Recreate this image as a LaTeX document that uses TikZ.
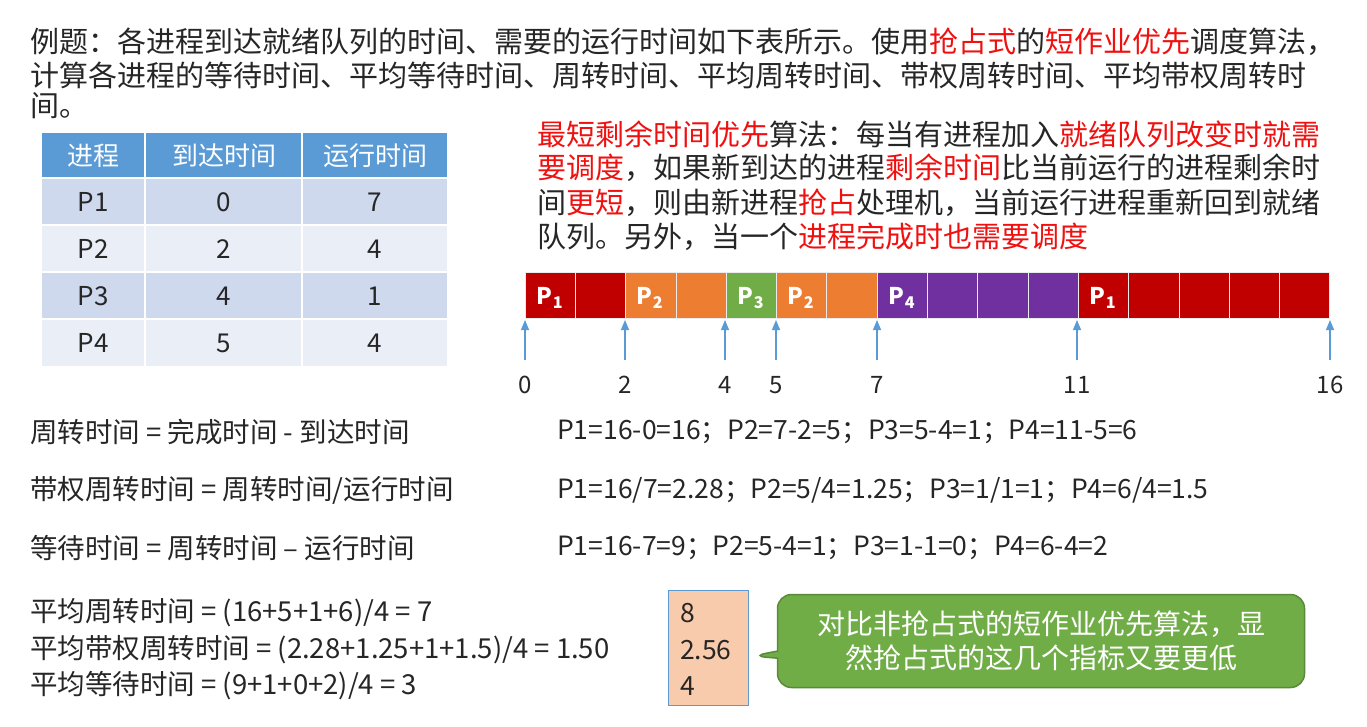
\documentclass[tikz,border=0pt]{standalone}
\usepackage{fontspec}
\setmainfont{Noto Sans CJK SC}
\usetikzlibrary{arrows.meta,shapes.callouts}
\definecolor{red1}{HTML}{C00000}
\definecolor{rtx}{HTML}{F01010}
\definecolor{org}{HTML}{ED7D31}
\definecolor{grn}{HTML}{70AD47}
\definecolor{pur}{HTML}{7030A0}
\definecolor{hdr}{HTML}{5B9BD5}
\definecolor{rowa}{HTML}{CFD9EE}
\definecolor{rowb}{HTML}{E9EEF7}
\definecolor{tick}{HTML}{5B9BD5}
\definecolor{peach}{HTML}{F8CBAD}
\definecolor{txt}{HTML}{262626}
\tikzset{
 tx/.style={anchor=west,inner sep=0pt,font=\fontsize{26.5}{30}\selectfont,text=txt},
 txl/.style={anchor=west,inner sep=0pt,font=\fontsize{27.5}{30}\selectfont,text=txt},
 big/.style={anchor=west,inner sep=0pt,font=\fontsize{29}{32}\selectfont,text=txt},
 cell/.style={draw=white!85!gray,line width=0.8pt},
 plab/.style={text=white,font=\fontsize{23}{24}\selectfont\bfseries,anchor=center},
 tarrow/.style={-{Triangle[width=8pt,length=10pt]},draw=tick,line width=1.2pt},
 tnum/.style={font=\fontsize{24}{26}\selectfont,text=txt,anchor=center},
 tabt/.style={font=\fontsize{26}{28}\selectfont,text=txt,anchor=center}
}
\newcommand{\rd}[1]{\textcolor{rtx}{#1}}
\begin{document}
\begin{tikzpicture}[x=1pt,y=-1pt]
\useasboundingbox[fill=white] (0,0) rectangle (1367,726);
% title
\node[big] (l1) at (30,42) {例题：各进程到达就绪队列的时间、需要的运行时间如下表所示。使用\rd{抢占式}的\rd{短作业优先}调度算法，};
\node[big] (l2) at (30,75) {计算各进程的等待时间、平均等待时间、周转时间、平均周转时间、带权周转时间、平均带权周转时};
\node[big] (l3) at (30,106) {间。};
% table
\fill[hdr] (42,133) rectangle (447,178);
\foreach \i/\c in {0/rowa,1/rowb,2/rowa,3/rowb}{
 \fill[\c] (42,178+47*\i) rectangle (447,225+47*\i);}
\foreach \x in {145,302}{\draw[white,line width=1.2pt] (\x,133) -- (\x,366);}
\foreach \y in {178,225,272,319}{\draw[white,line width=1.2pt] (42,\y) -- (447,\y);}
\node[tabt,text=white] (h1) at (93,156) {进程};
\node[tabt,text=white] (h2) at (224,156) {到达时间};
\node[tabt,text=white] (h3) at (375,156) {运行时间};
\foreach \p/\a/\r [count=\i from 0] in {P1/0/7,P2/2/4,P3/4/1,P4/5/4}{
 \node[tabt] (p\i) at (93,202+47*\i) {\p};
 \node[tabt] (a\i) at (224,202+47*\i) {\a};
 \node[tabt] (r\i) at (375,202+47*\i) {\r};}
% right text
\node[big] (s1) at (537,134) {\rd{最短剩余时间优先}算法：每当有进程加入\rd{就绪队列改变时就需}};
\node[big] (s2) at (537,168) {\rd{要调度}，如果新到达的进程\rd{剩余时间}比当前运行的进程剩余时};
\node[big] (s3) at (537,203) {间\rd{更短}，则由新进程\rd{抢占}处理机，当前运行进程重新回到就绪};
\node[big] (s4) at (537,237) {队列。另外，当一个\rd{进程完成时也需要调度}};
% gantt
\def\u{50.3}
\foreach \i/\c in {0/red1,1/red1,2/org,3/org,4/grn,5/org,6/org,7/pur,8/pur,9/pur,10/pur,11/red1,12/red1,13/red1,14/red1,15/red1}{
 \filldraw[fill=\c,cell] (525+\u*\i,272) rectangle (525+\u*\i+\u,318);}
\node[plab] (g1) at (550,298) {P\textsubscript{1}};
\node[plab] (g2) at (650,298) {P\textsubscript{2}};
\node[plab] (g3) at (751,298) {P\textsubscript{3}};
\node[plab] (g4) at (801,298) {P\textsubscript{2}};
\node[plab] (g5) at (902,298) {P\textsubscript{4}};
\node[plab] (g6) at (1103,298) {P\textsubscript{1}};
\foreach \t/\x in {0/525,2/625,4/725,5/776,7/877,11/1077,16/1330}{
 \coordinate (b\t) at (\x,360);
 \coordinate (e\t) at (\x,320);
 \draw[tarrow] (b\t) -- (e\t);
 \node[tnum] (n\t) at (\x,385) {\t};}
% formulas
\node[txl] (f1) at (30,432) {周转时间 = 完成时间 - 到达时间};
\node[txl] (f2) at (30,490) {带权周转时间 = 周转时间/运行时间};
\node[txl] (f3) at (30,548) {等待时间 = 周转时间 – 运行时间};
\node[tx] (v1) at (557,432) {P1=16-0=16；P2=7-2=5；P3=5-4=1；P4=11-5=6};
\node[tx] (v2) at (557,490) {P1=16/7=2.28；P2=5/4=1.25；P3=1/1=1；P4=6/4=1.5};
\node[tx] (v3) at (557,548) {P1=16-7=9；P2=5-4=1；P3=1-1=0；P4=6-4=2};
\node[txl] (m1) at (30,613) {平均周转时间 = (16+5+1+6)/4 = 7};
\node[txl] (m2) at (30,650) {平均带权周转时间 = (2.28+1.25+1+1.5)/4 = 1.50};
\node[txl] (m3) at (30,686) {平均等待时间 = (9+1+0+2)/4 = 3};
% orange box
\node[draw=hdr,fill=peach,line width=0.8pt,minimum width=80pt,minimum height=115pt,inner sep=0pt] (ob) at (708,647.5) {};
\node[tx] (o1) at (680,613) {8};
\node[tx] (o2) at (680,650) {2.56};
\node[tx] (o3) at (680,686) {4};
% callout
\node[rectangle callout,rounded corners=14pt,fill=grn,draw=grn!80!black,line width=1.5pt,
 minimum width=527pt,minimum height=93pt,align=center,text=white,
 font=\fontsize{28}{34}\selectfont,callout absolute pointer={(752,656)}] (co) at (1041,641)
 {对比非抢占式的短作业优先算法，显\\然抢占式的这几个指标又要更低};
\end{tikzpicture}
\end{document}
